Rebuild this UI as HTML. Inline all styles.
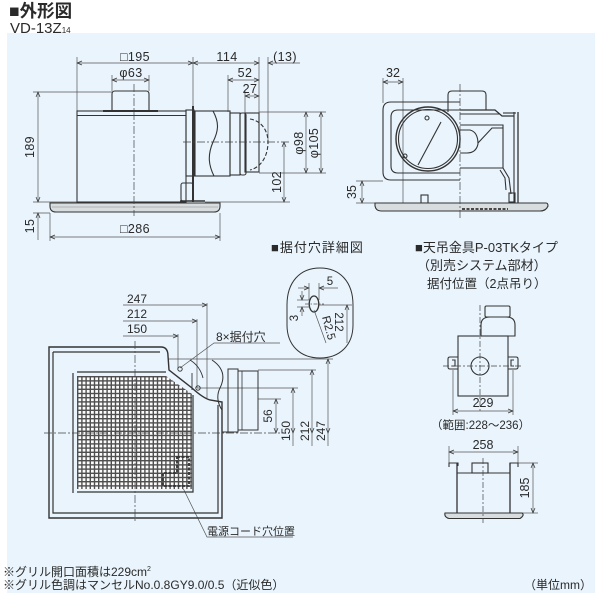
<!DOCTYPE html>
<html><head><meta charset="utf-8">
<style>
html,body{margin:0;padding:0;background:#fff;}
svg{display:block;}
text{font-family:"Liberation Sans","Noto Sans CJK JP",sans-serif;fill:#2a2a2a;}
</style></head><body>
<svg width="600" height="600" viewBox="0 0 600 600" xmlns="http://www.w3.org/2000/svg">
<defs>
<marker id="ar" viewBox="0 0 10 10" refX="10" refY="5" markerWidth="6" markerHeight="5" orient="auto-start-reverse" markerUnits="userSpaceOnUse"><path d="M0,1 L10,5 L0,9" fill="none" stroke="#333" stroke-width="1.4"/></marker>
<pattern id="grid" x="77" y="376" width="4.2" height="4.2" patternUnits="userSpaceOnUse"><rect width="4.2" height="4.2" fill="#4f4f4f"/><rect x="1.4" y="1.4" width="2.8" height="2.8" fill="#fbfbfb"/></pattern>
</defs>
<rect x="7" y="33" width="588" height="560" fill="#e9f4fc"/>

<!-- header -->
<text x="9" y="17" font-size="17.5" font-weight="bold">■外形図</text>
<text x="10" y="33" font-size="15">VD-13Z<tspan font-size="8">14</tspan></text>

<!-- ================= TOP FRONT VIEW ================= -->
<g fill="none" stroke="#555" stroke-width="0.7">
  <line x1="77" y1="57" x2="77" y2="111"/>
  <line x1="193" y1="57" x2="193" y2="106"/>
  <line x1="259" y1="57" x2="259" y2="113"/>
  <line x1="268" y1="57" x2="268" y2="140"/>
  <line x1="228" y1="75" x2="228" y2="112"/>
  <line x1="245" y1="90" x2="245" y2="113"/>
  <line x1="112" y1="75" x2="112" y2="91"/>
  <line x1="149" y1="75" x2="149" y2="91"/>
  <line x1="259" y1="112" x2="326" y2="112"/>
  <line x1="259" y1="173" x2="326" y2="173"/>
  <line x1="205" y1="202" x2="290" y2="202"/>
  <line x1="33" y1="92" x2="112" y2="92"/>
  <line x1="33" y1="202" x2="77" y2="202"/>
  <line x1="33" y1="213" x2="50" y2="213"/>
  <line x1="50" y1="213" x2="50" y2="241"/>
  <line x1="220" y1="213" x2="220" y2="241"/>
  <line x1="77" y1="63" x2="193" y2="63" marker-start="url(#ar)" marker-end="url(#ar)"/>
  <line x1="193" y1="63" x2="259" y2="63" marker-start="url(#ar)" marker-end="url(#ar)"/>
  <line x1="300" y1="63" x2="268" y2="63" marker-end="url(#ar)"/>
  <line x1="228" y1="80" x2="259" y2="80" marker-start="url(#ar)" marker-end="url(#ar)"/>
  <line x1="245" y1="96" x2="259" y2="96" marker-start="url(#ar)" marker-end="url(#ar)"/>
  <line x1="112" y1="80" x2="149" y2="80" marker-start="url(#ar)" marker-end="url(#ar)"/>
  <line x1="306" y1="112" x2="306" y2="173" marker-start="url(#ar)" marker-end="url(#ar)"/>
  <line x1="321" y1="112" x2="321" y2="173" marker-start="url(#ar)" marker-end="url(#ar)"/>
  <line x1="284" y1="142" x2="284" y2="202" marker-start="url(#ar)" marker-end="url(#ar)"/>
  <line x1="38" y1="92" x2="38" y2="202" marker-start="url(#ar)" marker-end="url(#ar)"/>
  <line x1="38" y1="240" x2="38" y2="213" marker-end="url(#ar)"/>
  <line x1="50" y1="237" x2="220" y2="237" marker-start="url(#ar)" marker-end="url(#ar)"/>
</g>
<g fill="none" stroke="#333" stroke-width="1.1">
  <path d="M112,111 V94 Q112,91 115,91 H146 Q149,91 149,94 V111"/>
  <line x1="103" y1="111" x2="158" y2="111" stroke-width="2"/>
  <rect x="77" y="111" width="109" height="91"/>
  <line x1="77" y1="115.5" x2="186" y2="115.5"/>
  <rect x="186" y="110" width="8" height="66"/>
  <line x1="193" y1="106" x2="193" y2="202" stroke-width="2"/>
  <rect x="195" y="111" width="35" height="65"/>
  <path d="M213,111 C219,122 219,130 213,142 C207,156 209,166 214,176"/>
  <rect x="230" y="113" width="10" height="62"/>
  <rect x="240" y="113" width="6" height="62" rx="2"/>
  <rect x="245" y="113" width="14" height="59"/>
  <path d="M250,119 C262,121 268,131 268,142 C268,155 262,167 250,170" stroke-dasharray="4,2"/>
  <rect x="181" y="183" width="12" height="18" rx="2"/>
  <line x1="180" y1="201" x2="205" y2="201" stroke-width="1.5"/>
  <path d="M50,203 H220 V206 Q220,212 214,212 H56 Q50,212 50,206 Z" fill="#d8dde0"/>
  <line x1="52" y1="207" x2="218" y2="207" stroke="#888" stroke-width="0.6"/>
</g>
<g stroke="#444" stroke-width="0.7" stroke-dasharray="8,2,2,2" fill="none">
  <line x1="134" y1="84" x2="134" y2="216"/>
  <line x1="183" y1="142" x2="290" y2="142"/>
</g>
<g font-size="12.5" text-anchor="middle" letter-spacing="0.4">
  <text x="135" y="61">□195</text>
  <text x="227" y="61">114</text>
  <text x="285" y="61">(13)</text>
  <text x="245" y="77">52</text>
  <text x="250" y="93">27</text>
  <text x="131" y="77">φ63</text>
  <text x="135" y="233">□286</text>
  <text transform="translate(30,147) rotate(-90)" dominant-baseline="central">189</text>
  <text transform="translate(30,226) rotate(-90)" dominant-baseline="central">15</text>
  <text transform="translate(277,182) rotate(-90)" dominant-baseline="central">102</text>
  <text transform="translate(299,143) rotate(-90)" dominant-baseline="central">φ98</text>
  <text transform="translate(314,143) rotate(-90)" dominant-baseline="central">φ105</text>
</g>

<!-- ================= SIDE VIEW ================= -->
<g fill="none" stroke="#555" stroke-width="0.7">
  <line x1="383" y1="78" x2="383" y2="103"/>
  <line x1="403" y1="78" x2="403" y2="203"/>
  <line x1="383" y1="82" x2="403" y2="82" marker-start="url(#ar)" marker-end="url(#ar)"/>
  <line x1="356" y1="181" x2="383" y2="181"/>
  <line x1="356" y1="203" x2="375" y2="203"/>
  <line x1="362" y1="181" x2="362" y2="203" marker-start="url(#ar)" marker-end="url(#ar)"/>
</g>
<g fill="none" stroke="#333" stroke-width="1.1">
  <path d="M460,102 H391 Q383,102 383,110 V172 Q383,180 391,180 H460"/>
  <path d="M460,110 H398 Q391,110 391,117 V166 Q391,173 398,173 H460"/>
  <circle cx="428" cy="139" r="32" stroke-width="1.4"/>
  <circle cx="428" cy="139" r="29.5"/>
  <line x1="441" y1="122" x2="418" y2="165"/>
  <circle cx="427" cy="118" r="2"/>
  <circle cx="405" cy="156" r="2"/>
  <path d="M448,112 V95 Q448,91 452,91 H482 Q486,91 486,95 V110"/>
  <path d="M460,110 H495 L502,116 H514" stroke-width="1.3"/>
  <line x1="460" y1="114" x2="500" y2="114"/>
  <path d="M460,125 H503 V168 H460"/>
  <path d="M460,130 H470 Q478,132 478,144 Q476,153 467,153 H460"/>
  <path d="M478,143 L492,128 H503"/>
  <path d="M503,168 L509,178 L511,194"/>
  <path d="M500,170 L505,178 L506,190"/>
  <rect x="509" y="193" width="6" height="9"/>
  <line x1="514" y1="112" x2="514" y2="203"/>
  <line x1="518" y1="112" x2="518" y2="203" stroke-width="1.3"/>
  <path d="M503,113 L516,113"/>
  <rect x="421" y="195" width="7" height="8"/>
  <path d="M375,203 H546 Q548,203 548,206 Q546,211 540,211 H381 Q376,211 375,206 Z" fill="#d8dde0"/>
  <line x1="462" y1="209" x2="508" y2="209" stroke-dasharray="3,1.5" stroke-width="1.8"/>
</g>
<line x1="460" y1="84" x2="460" y2="218" stroke="#444" stroke-width="0.7" stroke-dasharray="8,2,2,2"/>
<g font-size="12.5" text-anchor="middle">
  <text x="393" y="77">32</text>
  <text transform="translate(352,192) rotate(-90)" dominant-baseline="central">35</text>
</g>

<!-- ================= PLAN VIEW (GRILLE) ================= -->
<g fill="none" stroke="#555" stroke-width="0.7">
  <line x1="123" y1="305" x2="207" y2="305" marker-end="url(#ar)"/>
  <line x1="123" y1="321" x2="197" y2="321" marker-end="url(#ar)"/>
  <line x1="123" y1="336" x2="178" y2="336" marker-end="url(#ar)"/>
  <line x1="207" y1="303" x2="207" y2="398"/>
  <line x1="197" y1="319" x2="197" y2="388"/>
  <line x1="178" y1="334" x2="178" y2="369"/>
  <line x1="168" y1="359" x2="333" y2="359"/>
  <line x1="258" y1="370" x2="316" y2="370"/>
  <line x1="197" y1="388" x2="298" y2="388"/>
  <line x1="258" y1="399" x2="281" y2="399"/>
  <line x1="276" y1="399" x2="276" y2="433" marker-start="url(#ar)" marker-end="url(#ar)"/>
  <line x1="293" y1="388" x2="293" y2="433" marker-start="url(#ar)" marker-end="url(#ar)"/>
  <line x1="312" y1="370" x2="312" y2="433" marker-start="url(#ar)" marker-end="url(#ar)"/>
  <line x1="328" y1="359" x2="328" y2="433" marker-start="url(#ar)" marker-end="url(#ar)"/>
  <line x1="293" y1="433" x2="293" y2="446"/>
  <line x1="312" y1="433" x2="312" y2="446"/>
  <line x1="328" y1="433" x2="328" y2="446"/>
  <path d="M280,343 H214 L180,368"/>
  <path d="M182,486 L207,537 H293"/>
</g>
<g fill="none" stroke="#333" stroke-width="1.2">
  <path d="M49,347 H161 Q168,347 168,356 L169,370 L192,388 Q203,398 210,400 L222,402 V518 H49 Z" stroke-width="1.4"/>
  <path d="M53,352 H160 M53,352 V513 H218 V405"/>
  <polygon points="77,376 166,376 192,394 192,489 77,489" fill="url(#grid)" stroke="none"/>
  <path d="M73,373 V493"/>
  <path d="M77,372 H166"/>
  <path d="M77,492 H193 V395"/>
  <path d="M190,360 Q200,366 203,378" stroke-width="0.9"/>
  <path d="M192,373 V390" stroke-width="0.9"/>
  <circle cx="180" cy="369" r="2.2" stroke-width="0.9"/>
  <circle cx="198" cy="388" r="2.2" stroke-width="0.9"/>
  <path d="M212,360 C224,368 225,378 220,388 C216,396 218,404 222,410" stroke-width="1"/>
  <path d="M222,410 V432 H228" stroke-width="1"/>
  <rect x="228" y="369" width="10" height="63" stroke-width="1"/>
  <rect x="238" y="371" width="20" height="59" stroke-width="1"/>
  <line x1="242" y1="371" x2="242" y2="430" stroke-width="0.8"/>
  <path d="M177,457 H189 V486 H163 V473 H177 Z" stroke-dasharray="3,1.5" stroke-width="1.8"/>
</g>
<g stroke="#444" stroke-width="0.7" stroke-dasharray="8,2,2,2" fill="none">
  <line x1="135" y1="341" x2="135" y2="523"/>
  <line x1="44" y1="433" x2="282" y2="433"/>
</g>
<g font-size="12" text-anchor="middle">
  <text x="137" y="303">247</text>
  <text x="137" y="318">212</text>
  <text x="137" y="333">150</text>
  <text transform="translate(268,416) rotate(-90)" dominant-baseline="central">56</text>
  <text transform="translate(286,431) rotate(-90)" dominant-baseline="central">150</text>
  <text transform="translate(305,431) rotate(-90)" dominant-baseline="central">212</text>
  <text transform="translate(321,431) rotate(-90)" dominant-baseline="central">247</text>
</g>
<text x="216" y="341" font-size="12">8×据付穴</text>
<text x="207" y="535" font-size="11">電源コード穴位置</text>

<!-- ================= DETAIL ================= -->
<text x="271" y="252" font-size="13" letter-spacing="1">■据付穴詳細図</text>
<g fill="none" stroke="#333" stroke-width="1">
  <path d="M320,268 C340,268 353,282 353,305 V325 C353,345 340,358 320,358 C300,358 287,345 287,325 V305 C287,282 300,268 320,268 Z"/>
  <ellipse cx="314" cy="304" rx="4.8" ry="8" stroke-width="1.3"/>
</g>
<g fill="none" stroke="#555" stroke-width="0.7">
  <line x1="309" y1="283" x2="309" y2="300"/>
  <line x1="319" y1="283" x2="319" y2="300"/>
  <line x1="298" y1="288" x2="309" y2="288" marker-end="url(#ar)"/>
  <line x1="338" y1="288" x2="319" y2="288" marker-end="url(#ar)"/>
  <line x1="297" y1="300" x2="310" y2="300"/>
  <line x1="297" y1="307" x2="310" y2="307"/>
  <line x1="302" y1="291" x2="302" y2="300" marker-end="url(#ar)"/>
  <line x1="302" y1="316" x2="302" y2="307" marker-end="url(#ar)"/>
  <line x1="319" y1="305" x2="352" y2="305"/>
  <line x1="347" y1="343" x2="347" y2="305" marker-end="url(#ar)"/>
  <line x1="314" y1="310" x2="326" y2="343"/>
  <line x1="305" y1="304" x2="324" y2="304" stroke-dasharray="4,1.5,1.5,1.5"/>
</g>
<g font-size="11.5" text-anchor="middle">
  <text x="330" y="285">5</text>
  <text transform="translate(295,318) rotate(-90)" dominant-baseline="central">3</text>
  <text transform="translate(328,328) rotate(75)" dominant-baseline="central">R2.5</text>
  <text transform="translate(338,322) rotate(90)" dominant-baseline="central">212</text>
</g>

<!-- ================= P-03TK ================= -->
<text x="415" y="252" font-size="13">■天吊金具P-03TKタイプ</text>
<text x="417" y="270" font-size="13">（別売システム部材）</text>
<text x="427" y="288" font-size="12.5">据付位置（2点吊り）</text>
<g fill="none" stroke="#333" stroke-width="1.1">
  <rect x="458" y="336" width="50" height="60"/>
  <rect x="485" y="306" width="25" height="11" rx="1.5"/>
  <path d="M481,336 V325 Q481,317 490,317 H506 Q515,317 515,325 V336 Z"/>
  <path d="M458,357 H450 Q448,357 448,359 V367 Q448,369 450,369 H458"/>
  <path d="M452,360 H455 V366 H452"/>
  <path d="M508,357 H516 Q518,357 518,359 V367 Q518,369 516,369 H508"/>
  <path d="M514,360 H511 V366 H514"/>
  <circle cx="480" cy="366" r="9"/>
</g>
<g stroke="#444" stroke-width="0.7" stroke-dasharray="6,2,2,2" fill="none">
  <line x1="443" y1="366" x2="523" y2="366"/>
  <line x1="480" y1="305" x2="480" y2="412"/>
</g>
<g fill="none" stroke="#555" stroke-width="0.7">
  <line x1="453" y1="370" x2="453" y2="415"/>
  <line x1="513" y1="370" x2="513" y2="415"/>
  <line x1="453" y1="411" x2="513" y2="411" marker-start="url(#ar)" marker-end="url(#ar)"/>
</g>
<text x="483" y="407" font-size="12.5" text-anchor="middle">229</text>
<text x="431" y="429" font-size="11.5">（範囲:228～236）</text>

<!-- 258 view -->
<g fill="none" stroke="#555" stroke-width="0.7">
  <line x1="449" y1="446" x2="449" y2="466"/>
  <line x1="518" y1="446" x2="518" y2="466"/>
  <line x1="449" y1="452" x2="518" y2="452" marker-start="url(#ar)" marker-end="url(#ar)"/>
  <line x1="518" y1="463" x2="538" y2="463"/>
  <line x1="522" y1="513" x2="538" y2="513"/>
  <line x1="533" y1="463" x2="533" y2="513" marker-start="url(#ar)" marker-end="url(#ar)"/>
</g>
<g fill="none" stroke="#333" stroke-width="1.1">
  <path d="M449,467 V463 H458 V466"/>
  <path d="M510,466 V463 H518 V467"/>
  <line x1="457" y1="463" x2="457" y2="513" stroke-width="1.3"/>
  <line x1="510" y1="463" x2="510" y2="513" stroke-width="1.3"/>
  <line x1="457" y1="473" x2="510" y2="473"/>
  <rect x="472" y="463" width="16" height="10"/>
  <path d="M445,513 H522 Q525,515 520,518.5 H449 Q444,517 445,513 Z" fill="#d8dde0"/>
</g>
<line x1="483" y1="458" x2="483" y2="523" stroke="#444" stroke-width="0.7" stroke-dasharray="6,2,2,2"/>
<text x="483" y="449" font-size="12.5" text-anchor="middle">258</text>
<text transform="translate(525,488) rotate(-90)" font-size="12.5" text-anchor="middle" dominant-baseline="central">185</text>

<text x="524" y="589" font-size="12">（単位mm）</text>

<!-- notes -->
<text x="3" y="576" font-size="12">※グリル開口面積は229cm<tspan font-size="7" dy="-5">2</tspan></text>
<text x="3" y="589" font-size="12">※グリル色調はマンセルNo.0.8GY9.0/0.5（近似色）</text>
</svg>
</body></html>
